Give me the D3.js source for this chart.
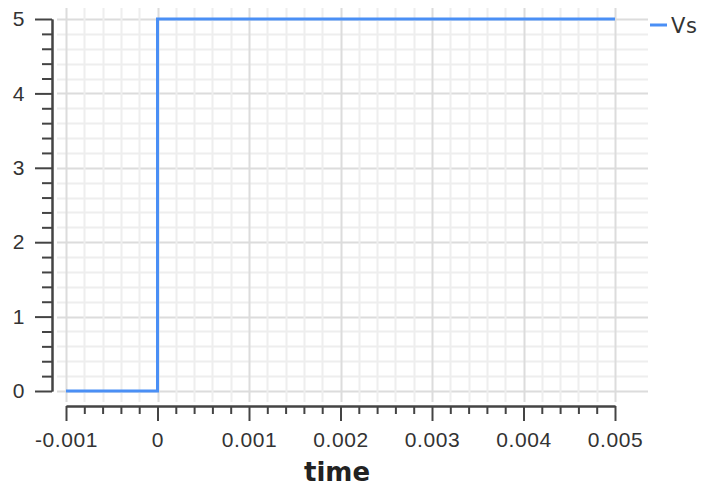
<!DOCTYPE html>
<html>
<head>
<meta charset="utf-8">
<script src="https://cdn.jsdelivr.net/npm/d3@7"></script>
<style>
  body { margin: 0; background: #fff; }
  svg { display: block; font-family: "DejaVu Sans", sans-serif; }
  .axis path, .axis line { stroke: #444; stroke-width: 2; }
  .axis text { fill: #333; font-size: 21px; letter-spacing: 0.6px; }
</style>
</head>
<body>
<div id="chart"></div>
<script>
// step source Vs
var times = [-0.001, 0, 0, 0.005];
var vs = [0, 0, 5, 5];
var xTicks = [-0.001, 0, 0.001, 0.002, 0.003, 0.004, 0.005];
var xTickLabels = ['-0.001', '0', '0.001', '0.002', '0.003', '0.004', '0.005'];
var yTicks = [0, 1, 2, 3, 4, 5];
var seriesName = 'Vs';
var xLabel = 'time';

var width = 702, height = 487;

var x = d3.scaleLinear().domain([-0.001, 0.005]).range([66, 615]);
var y = d3.scaleLinear().domain([0, 5]).range([391, 19]);

var svg = d3.select('#chart').append('svg')
  .attr('width', width)
  .attr('height', height);

// minor positions (5 per major)
var xMinor = d3.range(0, 31).map(function (i) { return -0.001 + i * 0.0002; });
var yMinor = d3.range(0, 26).map(function (i) { return i * 0.2; });

var grid = svg.append('g').attr('class', 'grid');

// horizontal gridlines
grid.selectAll('.hline')
  .data(yMinor)
  .enter().append('line')
  .attr('x1', 57).attr('x2', 648)
  .attr('y1', function (d) { return Math.round(y(d)) + 0.5; })
  .attr('y2', function (d) { return Math.round(y(d)) + 0.5; })
  .attr('stroke', function (d, i) { return i % 5 === 0 ? '#dcdcdc' : '#eeeeee'; })
  .attr('stroke-width', 2);

// vertical gridlines
grid.selectAll('.vline')
  .data(xMinor)
  .enter().append('line')
  .attr('y1', 8).attr('y2', 402)
  .attr('x1', function (d) { return Math.round(x(d)) + 0.5; })
  .attr('x2', function (d) { return Math.round(x(d)) + 0.5; })
  .attr('stroke', function (d, i) { return i % 5 === 0 ? '#dcdcdc' : '#eeeeee'; })
  .attr('stroke-width', 2);

// y axis
var yAxis = d3.axisLeft(y)
  .tickValues(yTicks)
  .tickFormat(d3.format('d'))
  .tickSize(17)
  .tickSizeOuter(0)
  .tickPadding(10);

var yMinorAxis = d3.axisLeft(y)
  .tickValues(yMinor.filter(function (d, i) { return i % 5 !== 0; }))
  .tickFormat('')
  .tickSize(10)
  .tickSizeOuter(0);

svg.append('g')
  .attr('class', 'axis')
  .attr('transform', 'translate(52,0)')
  .call(yMinorAxis);

svg.append('g')
  .attr('class', 'axis')
  .attr('transform', 'translate(52,0)')
  .call(yAxis);

// x axis
var xAxis = d3.axisBottom(x)
  .tickValues(xTicks)
  .tickFormat(function (d, i) { return xTickLabels[i]; })
  .tickSize(15)
  .tickSizeOuter(0)
  .tickPadding(11);

var xMinorAxis = d3.axisBottom(x)
  .tickValues(xMinor.filter(function (d, i) { return i % 5 !== 0; }))
  .tickFormat('')
  .tickSize(8)
  .tickSizeOuter(0);

svg.append('g')
  .attr('class', 'axis')
  .attr('transform', 'translate(0,406)')
  .call(xMinorAxis);

svg.append('g')
  .attr('class', 'axis')
  .attr('transform', 'translate(0,406)')
  .call(xAxis);

// series line
var line = d3.line()
  .x(function (d, i) { return x(times[i]); })
  .y(function (d) { return y(d); });

svg.append('path')
  .datum(vs)
  .attr('fill', 'none')
  .attr('stroke', '#4a8ff5')
  .attr('stroke-width', 3)
  .attr('d', line);

// axis title
svg.append('text')
  .attr('x', 337)
  .attr('y', 481)
  .attr('text-anchor', 'middle')
  .style('font-size', '26px')
  .style('font-weight', 'bold')
  .attr('fill', '#222')
  .text(xLabel);

// legend
var legend = svg.append('g').attr('transform', 'translate(650,25)');
legend.append('line')
  .attr('x1', 0).attr('x2', 17)
  .attr('y1', 0).attr('y2', 0)
  .attr('stroke', '#4a8ff5')
  .attr('stroke-width', 3);
legend.append('text')
  .attr('x', 21)
  .attr('y', 8)
  .style('font-size', '21px')
  .style('letter-spacing', '0.6px')
  .attr('fill', '#333')
  .text(seriesName);
</script>
</body>
</html>
